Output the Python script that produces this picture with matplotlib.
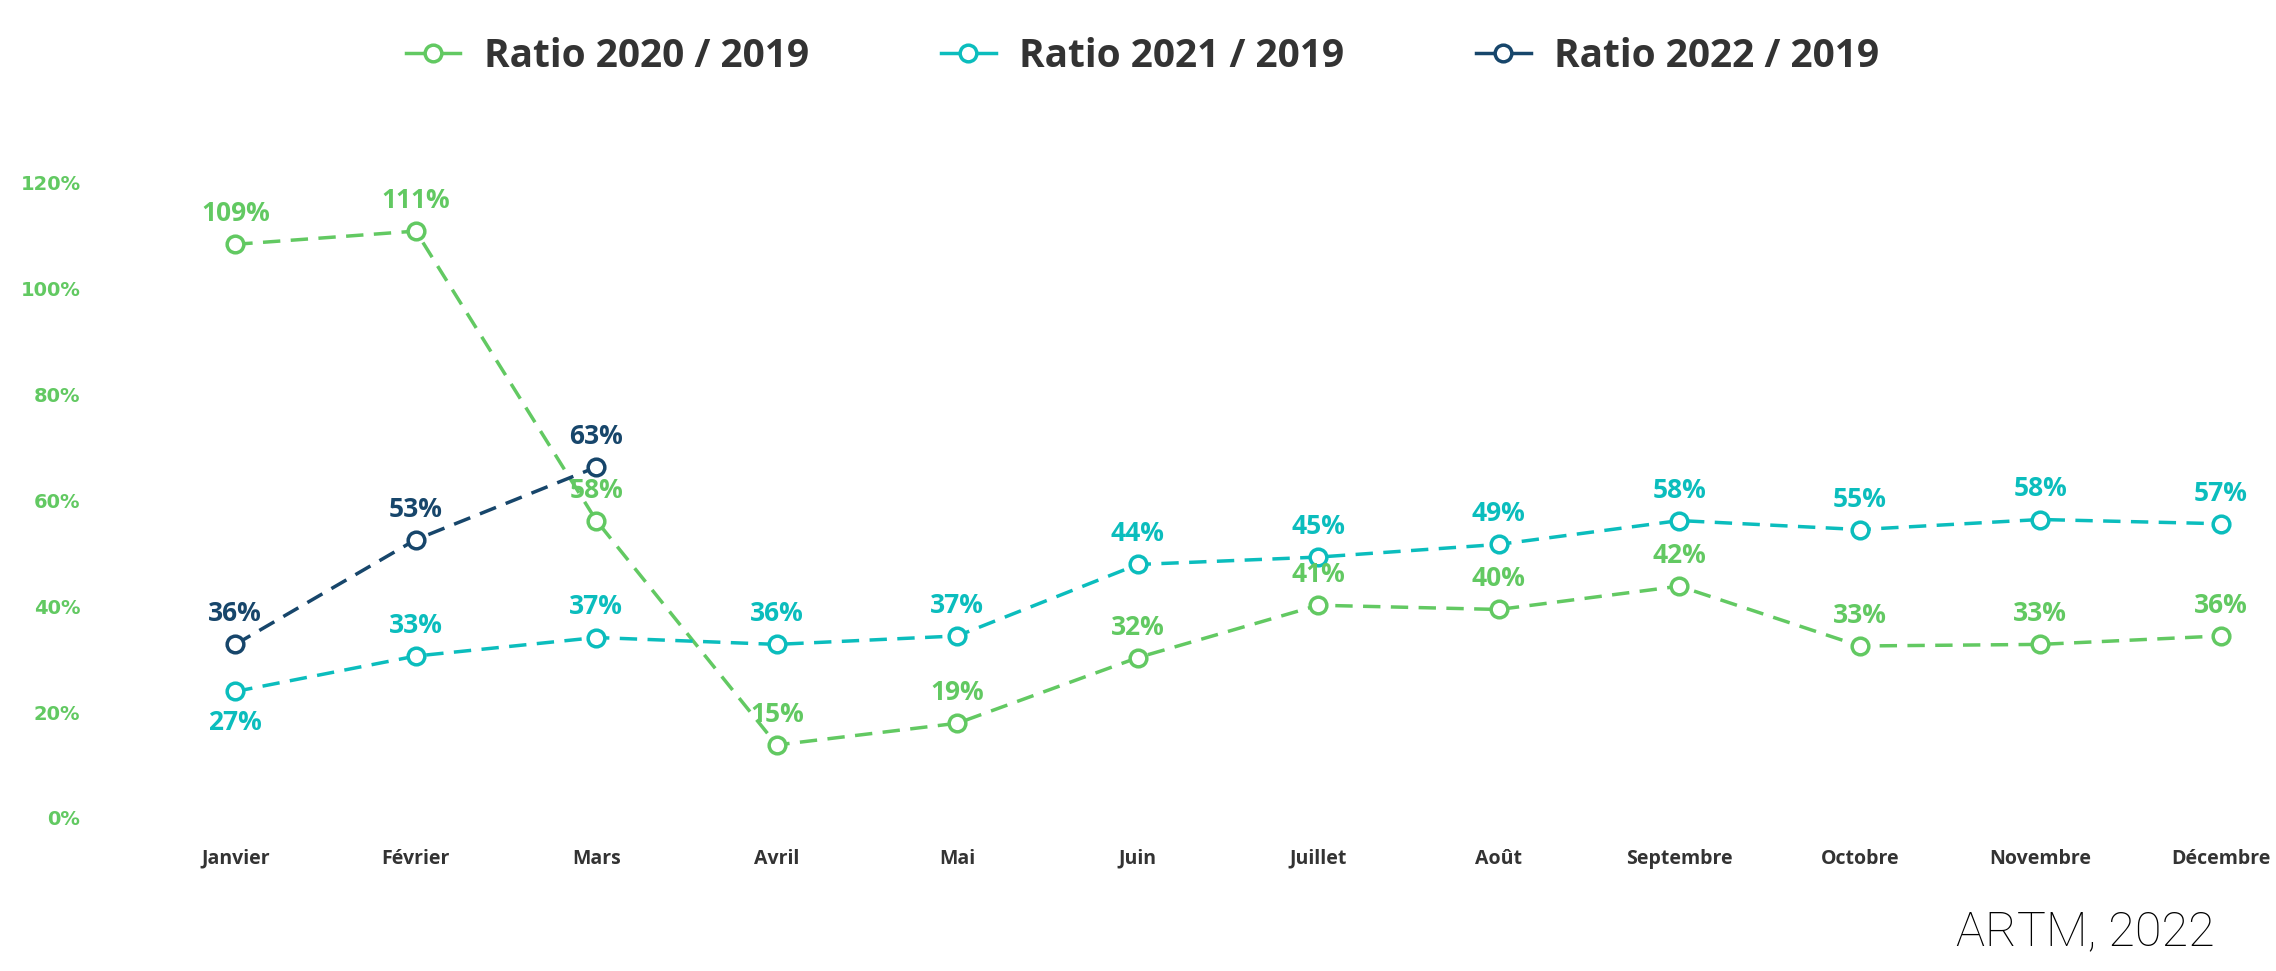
import matplotlib
matplotlib.use("Agg")
import matplotlib.pyplot as plt
from matplotlib.lines import Line2D

months = ["Janvier", "Février", "Mars", "Avril", "Mai", "Juin", "Juillet",
          "Août", "Septembre", "Octobre", "Novembre", "Décembre"]

# marker heights as drawn in the picture (%)
ratio_2020 = [108.4, 110.9, 56.2, 13.8, 17.9, 30.3, 40.2, 39.4, 43.8, 32.5, 32.8, 34.4]
ratio_2021 = [23.9, 30.6, 34.1, 32.8, 34.4, 47.9, 49.3, 51.7, 56.2, 54.5, 56.4, 55.6]
ratio_2022 = [32.8, 52.6, 66.3]

# data labels as printed
labels_2020 = ["109%", "111%", "58%", "15%", "19%", "32%", "41%", "40%", "42%", "33%", "33%", "36%"]
labels_2021 = ["27%", "33%", "37%", "36%", "37%", "44%", "45%", "49%", "58%", "55%", "58%", "57%"]
labels_2022 = ["36%", "53%", "63%"]

y_ticks = [0, 20, 40, 60, 80, 100, 120]

GREEN = "#62c962"
TEAL = "#0bbdbd"
NAVY = "#17466b"

series = [
    ("Ratio 2020 / 2019", ratio_2020, labels_2020, GREEN),
    ("Ratio 2021 / 2019", ratio_2021, labels_2021, TEAL),
    ("Ratio 2022 / 2019", ratio_2022, labels_2022, NAVY),
]

fig = plt.figure(figsize=(22.76, 9.71), dpi=100)
ax = fig.add_axes([0.0439, 0.1576, 0.9517, 0.654])

handles = []
for name, vals, labs, col in series:
    x = list(range(len(vals)))
    ax.plot(x, vals, color=col, lw=2.5, linestyle=(0, (5, 3)),
            marker="o", markersize=12, markerfacecolor="white",
            markeredgecolor=col, markeredgewidth=2.5, clip_on=False, zorder=3)
    for i, (v, t) in enumerate(zip(vals, labs)):
        dy = 22
        if name.startswith("Ratio 2021") and i == 0:
            dy = -22
        ax.annotate(t, (i, v), xytext=(0, dy), textcoords="offset points",
                    ha="center", va="center", color=col, fontsize=19,
                    fontweight="bold", family="Open Sans", zorder=4)
    handles.append(Line2D([], [], color=col, lw=2.5, marker="o", markersize=12,
                          markerfacecolor="white", markeredgecolor=col,
                          markeredgewidth=2.5, label=name))

ax.set_xlim(-0.75, 11.25)
ax.set_ylim(0, 120)
ax.set_xticks(range(len(months)))
ax.set_xticklabels(months, fontsize=14, fontweight="bold", family="Open Sans", color="#333333")
ax.set_yticks(y_ticks)
ax.set_yticklabels([f"{v}%" for v in y_ticks], fontsize=14, fontweight="bold",
                   family="DejaVu Sans", color=GREEN)
ax.tick_params(axis="both", length=0)
ax.tick_params(axis="x", pad=22)
ax.tick_params(axis="y", pad=14)
for s in ax.spines.values():
    s.set_visible(False)

leg = fig.legend(handles=handles, loc="upper center", bbox_to_anchor=(0.502, 0.998),
                 ncol=3, frameon=False, handlelength=1.4, handletextpad=0.6,
                 columnspacing=3.4, prop={"family": "Open Sans", "weight": "bold", "size": 28})
for t in leg.get_texts():
    t.set_color("#333333")

fig.text(0.973, 0.04, "ARTM, 2022", ha="right", va="center", fontsize=35,
         family="Roboto", fontweight="light", color="black")

fig.savefig("out.png", dpi=100)
